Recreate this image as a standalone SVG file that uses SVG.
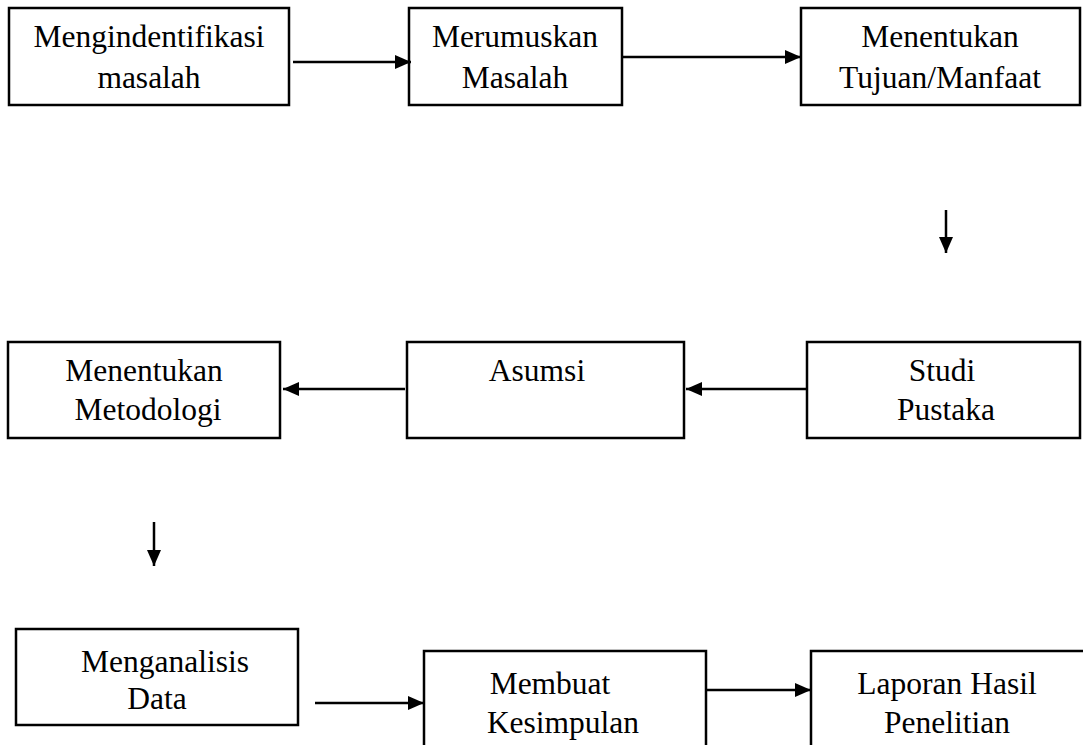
<svg xmlns="http://www.w3.org/2000/svg" width="1083" height="745" viewBox="0 0 1083 745">
<style>
.box{fill:#fff;stroke:#000;stroke-width:2.5}
.t{font-family:"Liberation Serif","Times New Roman","DejaVu Serif",serif;font-size:31.5px;fill:#000;text-anchor:middle}
.c{stroke:#000;stroke-width:2.5;fill:none}
</style>
<defs>
<marker id="ah" viewBox="0 0 16 14" markerWidth="16" markerHeight="14" refX="16" refY="7" orient="auto" markerUnits="userSpaceOnUse">
<path d="M0,0 L16,7 L0,14 Z" fill="#000"/>
</marker>
</defs>
<rect width="1083" height="745" fill="#fff"/>
<g id="n1"><rect class="box" x="9" y="8" width="280" height="97"/><text class="t" x="149" y="47">Mengindentifikasi</text><text class="t" x="149" y="88">masalah</text></g>
<g id="n2"><rect class="box" x="409" y="8" width="213" height="97"/><text class="t" x="515" y="47">Merumuskan</text><text class="t" x="515" y="88">Masalah</text></g>
<g id="n3"><rect class="box" x="801" y="8" width="279" height="97"/><text class="t" x="940" y="47">Menentukan</text><text class="t" x="940" y="88">Tujuan/Manfaat</text></g>
<g id="n4"><rect class="box" x="8" y="342" width="272" height="96"/><text class="t" x="144" y="381">Menentukan</text><text class="t" x="148" y="420">Metodologi</text></g>
<g id="n5"><rect class="box" x="407" y="342" width="277" height="96"/><text class="t" x="537" y="381">Asumsi</text></g>
<g id="n6"><rect class="box" x="807" y="342" width="273" height="96"/><text class="t" x="942" y="381">Studi</text><text class="t" x="946" y="420">Pustaka</text></g>
<g id="n7"><rect class="box" x="16" y="629" width="282" height="96"/><text class="t" x="165" y="672">Menganalisis</text><text class="t" x="157" y="709">Data</text></g>
<g id="n8"><path class="box" d="M424,746 V651 H706 V746"/><text class="t" x="550" y="694">Membuat</text><text class="t" x="563" y="733">Kesimpulan</text></g>
<g id="n9"><path class="box" d="M811,746 V651 H1084"/><text class="t" x="947" y="694">Laporan Hasil</text><text class="t" x="947" y="733">Penelitian</text></g>
<g id="connectors">
<line class="c" x1="293" y1="62" x2="411" y2="62" marker-end="url(#ah)"/>
<line class="c" x1="622" y1="57" x2="801" y2="57" marker-end="url(#ah)"/>
<line class="c" x1="946" y1="210" x2="946" y2="253" marker-end="url(#ah)"/>
<line class="c" x1="405" y1="389" x2="283" y2="389" marker-end="url(#ah)"/>
<line class="c" x1="807" y1="389" x2="686" y2="389" marker-end="url(#ah)"/>
<line class="c" x1="154" y1="522" x2="154" y2="566" marker-end="url(#ah)"/>
<line class="c" x1="315" y1="703" x2="424" y2="703" marker-end="url(#ah)"/>
<line class="c" x1="706" y1="690" x2="811" y2="690" marker-end="url(#ah)"/>
</g>
</svg>
